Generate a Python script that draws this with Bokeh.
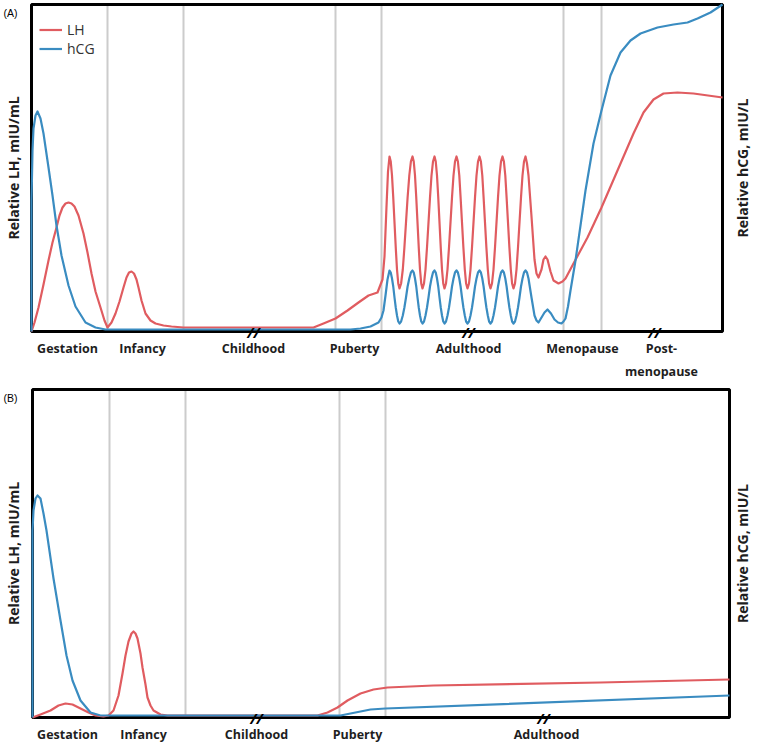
import math
from bokeh.plotting import figure
from bokeh.models import Label, Legend, LegendItem, Range1d
from bokeh.layouts import column
from bokeh.embed import file_html
from bokeh.resources import INLINE

# ---------------- Panel A data (relative units) ----------------
# pre-adulthood part
a_lh_pre_x = [0, 3, 7, 12, 17, 21, 25, 28, 31, 34, 37, 40, 43, 47, 52, 56, 60, 64, 69, 73, 76, 80, 84, 88, 92, 95,
              97.5, 100, 102.5, 105, 107, 110, 114, 119, 124, 132, 140, 152,
              282, 292, 304, 316, 327, 337, 346, 351, 353, 355, 356.5]
a_lh_pre_y = [0, 9, 24, 47, 71, 89, 104, 116, 124, 128, 129, 128, 125, 116, 98, 79, 58, 40, 24, 11, 4, 9, 18, 30, 44, 54,
              59, 60, 58, 52, 44, 31, 18, 11, 8, 6, 5, 4,
              4, 8, 13, 21, 29, 36, 39, 52, 75, 125, 160]
a_hcg_pre_x = [0, 0, 1, 2, 4, 6, 9, 12, 17, 21, 25, 30, 37, 44, 54, 64, 74,
               299, 319, 329, 339, 347, 350, 352, 354, 356]
a_hcg_pre_y = [0, 131, 181, 203, 216, 220, 213, 198, 164, 136, 106, 76, 46, 25, 9, 4, 2,
               2, 2, 3, 5, 9, 14, 21, 36, 52]

# adulthood (monthly cycles)
a_osc_x = [358, 359.25, 360.5, 361.75, 363, 364.25, 365.5, 366.75, 368,
           369.6, 371.3, 372.9, 374.5, 376.1, 377.8, 379.4, 381,
           382.25, 383.5, 384.75, 386, 387.25, 388.5, 389.75, 391,
           392.5, 394, 395.5, 397, 398.5, 400, 401.5, 403,
           404.25, 405.5, 406.75, 408, 409.25, 410.5, 411.75, 413,
           414.5, 416, 417.5, 419, 420.5, 422, 423.5, 425,
           426.4, 427.8, 429.1, 430.5, 431.9, 433.3, 434.6, 436,
           437.5, 439, 440.5, 442, 443.5, 445, 446.5, 448,
           449.4, 450.8, 452.1, 453.5, 454.9, 456.3, 457.6, 459,
           460.5, 462, 463.5, 465, 466.5, 468, 469.5, 471,
           472.4, 473.8, 475.1, 476.5, 477.9, 479.3, 480.6, 482,
           483.5, 485, 486.5, 488, 489.5, 491, 492.5, 494]
a_lh_osc_y = [175, 170, 156, 134, 109, 84, 62, 48, 43,
              48, 62, 84, 109, 134, 156, 170, 175,
              170, 156, 134, 109, 84, 62, 48, 43,
              48, 62, 84, 109, 134, 156, 170, 175,
              170, 156, 134, 109, 84, 62, 48, 43,
              48, 62, 84, 109, 134, 156, 170, 175,
              170, 156, 134, 109, 84, 62, 48, 43,
              48, 62, 84, 109, 134, 156, 170, 175,
              170, 156, 134, 109, 84, 62, 48, 43,
              48, 62, 84, 109, 134, 156, 170, 175,
              170, 156, 134, 109, 84, 62, 48, 43,
              48, 62, 84, 109, 134, 156, 170, 175]
a_hcg_osc_y = [61, 59, 53, 45, 34, 24, 16, 10, 8,
               10, 16, 24, 34, 45, 53, 59, 61,
               59, 53, 45, 34, 24, 16, 10, 8,
               10, 16, 24, 34, 45, 53, 59, 61,
               59, 53, 45, 34, 24, 16, 10, 8,
               10, 16, 24, 34, 45, 53, 59, 61,
               59, 53, 45, 34, 24, 16, 10, 8,
               10, 16, 24, 34, 45, 53, 59, 61,
               59, 53, 45, 34, 24, 16, 10, 8,
               10, 16, 24, 34, 45, 53, 59, 61,
               59, 53, 45, 34, 24, 16, 10, 8,
               10, 16, 24, 34, 45, 53, 59, 61]

# menopause and after
a_lh_post_x = [495.5, 497, 500, 503, 505, 507, 510, 512, 514, 516, 519, 522, 527, 531, 534,
               542, 556, 570, 586, 602, 612, 622, 632, 646, 662, 691]
a_lh_post_y = [168, 156, 115, 72, 58, 54, 62, 72, 75, 72, 60, 51, 48, 50, 53,
               68, 94, 124, 161, 198, 219, 232, 238, 239, 238, 234]
a_hcg_post_x = [495.5, 497, 500, 503, 505, 507, 510, 513, 516, 519.5, 523, 526.5, 530, 532, 534, 536.5,
                539, 544, 549, 554, 562, 570, 579, 589, 599, 609, 626, 642, 656, 666, 679, 691]
a_hcg_post_y = [59, 53, 34, 16, 11, 9, 14, 19, 22, 18, 12, 9, 8, 10, 13, 25,
                41, 71, 106, 141, 188, 221, 256, 279, 291, 298, 304, 307, 309, 313, 319, 327]

a_boundaries = [76, 152, 304, 350, 532, 570]
a_stages = ["Gestation", "Infancy", "Childhood", "Puberty", "Adulthood", "Menopause", "Post-\nmenopause"]
a_stage_pos = [36, 111, 222, 323, 437, 551, 630]
a_breaks = [222, 437, 623]

# ---------------- Panel B data (relative units) ----------------
b_lh_x = [0, 8, 18, 26, 33, 40, 48, 56, 63, 71, 76, 81, 86, 90, 93, 96, 99, 101, 103, 105, 108, 110, 113, 115,
          118, 121, 128, 135, 153, 285, 295, 305, 315, 328, 341, 355, 401, 568, 697]
b_lh_y = [0, 3, 7, 12, 14, 13, 9, 5, 2, 1, 2, 7, 22, 44, 62, 76, 84, 86, 84, 79, 64, 50, 33, 20,
          12, 7, 3, 2, 2, 2, 5, 10, 17, 24, 28, 30, 32, 35, 38]

b_hcg_x = [0, 0, 0, 1, 3, 5, 8, 11, 14, 21, 28, 34, 40, 48, 58, 68, 308, 318, 328, 338, 353, 697]
b_hcg_y = [0, 137, 187, 207, 219, 222, 219, 204, 187, 139, 97, 62, 37, 17, 5, 2, 2, 4, 6, 8, 9, 22]

b_boundaries = [77, 153, 307, 353]
b_stages = ["Gestation", "Infancy", "Childhood", "Puberty", "Adulthood"]
b_stage_pos = [35, 111, 224, 325, 514]
b_breaks = [224, 511]

legend_labels = ["LH", "hCG"]
y_left_label = "Relative LH, mIU/mL"
y_right_label = "Relative hCG, mIU/L"

LH_COLOR = "#e05c60"
HCG_COLOR = "#3a8cc1"
GRID_COLOR = "#cccccc"
TEXT_COLOR = "#1e1e1e"
FONT = "Open Sans"


def make_panel(tag, W, H, left, bottom, fw, fh, lh_x, lh_y, hcg_x, hcg_y, bounds, stages, stage_pos, breaks,
               legend, left_lab_x, right_lab_x, tag_x):
    # one screen pixel per unit; the frame covers the whole canvas so side texts are not clipped
    p = figure(frame_width=W, frame_height=H,
               x_range=Range1d(-left, W - left), y_range=Range1d(-bottom, H - bottom),
               min_border=0, toolbar_location=None, output_backend="svg",
               x_axis_location=None, y_axis_location=None)
    p.grid.visible = False
    p.outline_line_color = None
    p.background_fill_color = "white"
    p.border_fill_color = "white"

    n = len(bounds)
    p.segment(x0=bounds, y0=[0] * n, x1=bounds, y1=[fh] * n, line_color=GRID_COLOR, line_width=2)
    p.quad(left=[0], right=[fw], bottom=[0], top=[fh], fill_color=None, line_color="black", line_width=3)

    r_lh = p.line(lh_x, lh_y, line_color=LH_COLOR, line_width=2.2, line_join="round")
    r_hcg = p.line(hcg_x, hcg_y, line_color=HCG_COLOR, line_width=2.2, line_join="round")

    if legend:
        leg = Legend(items=[LegendItem(label=legend_labels[0], renderers=[r_lh]),
                            LegendItem(label=legend_labels[1], renderers=[r_hcg])],
                     location=(39, H - 57.5), padding=0, margin=0, spacing=0,
                     glyph_width=23, glyph_height=17, label_height=17, label_standoff=5,
                     label_text_font=FONT, label_text_font_size="14px", label_text_color="#333333",
                     border_line_color=None, background_fill_alpha=0)
        p.add_layout(leg)

    for name, pos in zip(stages, stage_pos):
        p.add_layout(Label(x=pos, y=-8, text=name, text_align="center", text_baseline="top",
                           text_font=FONT, text_font_style="bold", text_font_size="12.5px",
                           text_color=TEXT_COLOR, text_line_height=1.4))
    for bpos in breaks:
        p.add_layout(Label(x=bpos, y=0, text="//", text_align="center", text_baseline="middle",
                           text_font=FONT, text_font_style="bold italic", text_font_size="15px",
                           text_color="black"))

    p.add_layout(Label(x=tag_x, y=fh - 8, text=tag, text_align="left", text_baseline="middle",
                       text_font="Liberation Sans", text_font_size="10.5px", text_color="black"))
    p.add_layout(Label(x=left_lab_x, y=fh / 2, text=y_left_label, angle=math.pi / 2,
                       text_align="center", text_baseline="middle",
                       text_font=FONT, text_font_style="bold", text_font_size="14px", text_color=TEXT_COLOR))
    p.add_layout(Label(x=right_lab_x, y=fh / 2, text=y_right_label, angle=math.pi / 2,
                       text_align="center", text_baseline="middle",
                       text_font=FONT, text_font_style="bold", text_font_size="14px", text_color=TEXT_COLOR))
    return p


a_lh_x = a_lh_pre_x + a_osc_x + a_lh_post_x
a_lh_y = a_lh_pre_y + a_lh_osc_y + a_lh_post_y
a_hcg_x = a_hcg_pre_x + a_osc_x + a_hcg_post_x
a_hcg_y = a_hcg_pre_y + a_hcg_osc_y + a_hcg_post_y

pA = make_panel("(A)", 760, 385, 31, 54, 691, 327, a_lh_x, a_lh_y, a_hcg_x, a_hcg_y,
                a_boundaries, a_stages, a_stage_pos, a_breaks, True, -18, 711, -28)
pB = make_panel("(B)", 760, 366, 32, 34, 697, 328, b_lh_x, b_lh_y, b_hcg_x, b_hcg_y,
                b_boundaries, b_stages, b_stage_pos, b_breaks, False, -19, 710, -29)

layout = column(pA, pB)
open("out.html", "w").write(file_html(layout, INLINE))
